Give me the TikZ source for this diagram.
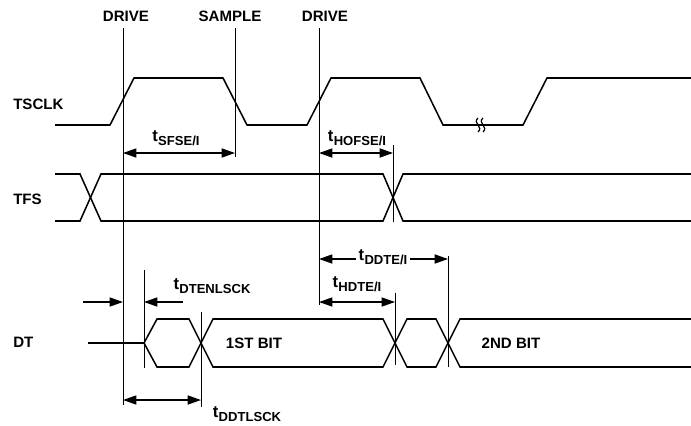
\documentclass[tikz,border=0pt]{standalone}
\usepackage{fontspec}
\setmainfont{Liberation Sans}
\usetikzlibrary{arrows.meta}

\newcommand{\tmark}[1]{{\fontsize{12.5}{13}\selectfont t}\kern0.2pt\raisebox{-3.4pt}{\fontsize{9.8}{10}\selectfont #1}}

\tikzset{
  wave/.style={line width=1.15pt, line join=miter},
  marker/.style={line width=0.6pt},
  dimarrow/.style={line width=0.95pt, {Triangle[length=10pt,width=6.8pt]}-{Triangle[length=10pt,width=6.8pt]}},
  onearrow/.style={line width=0.95pt, -{Triangle[length=10pt,width=6.8pt]}},
  txt/.style={font=\fontsize{11.3}{13}\selectfont\bfseries, inner sep=0pt},
}

\begin{document}
\begin{tikzpicture}[x=0.75pt,y=0.75pt,yscale=-1,xscale=1]
    \useasboundingbox (0,0) rectangle (691,425);

    %Marker lines
    \draw [marker] (123,28) -- (123,405) ;
    \draw [marker] (235,28) -- (235,157) ;
    \draw [marker] (319,28) -- (319,305) ;
    \draw [marker] (393,145) -- (393,222) ;
    \draw [marker] (395,293) -- (395,365) ;
    \draw [marker] (448,256) -- (448,367) ;
    \draw [marker] (144,270) -- (144,368) ;
    \draw [marker] (201,312) -- (201,407) ;

    %TSCLK
    \draw [wave] (55,125) -- (110,125) -- (134,78) -- (223,78) -- (247,125) -- (307,125) -- (331,78) -- (420,78) -- (443,125) -- (523,125) -- (547,78) -- (691,78) ;
    %Break mark
    \draw [line width=0.9pt] (478,118) .. controls (472,123) and (484,127) .. (478,132) ;
    \draw [line width=0.9pt] (483,118) .. controls (477,123) and (489,127) .. (483,132) ;

    %TFS
    \draw [wave] (55,174) -- (80,174) -- (101,221) -- (383,221) -- (403,174) -- (691,174) ;
    \draw [wave] (55,221) -- (80,221) -- (101,174) -- (383,174) -- (403,221) -- (691,221) ;

    %DT
    \draw [wave] (88,343) -- (144,343) ;
    \draw [wave] (144,343) -- (157,319) -- (189,319) -- (213,367) -- (383,367) -- (407,319) -- (436,319) -- (460,367) -- (691,367) ;
    \draw [wave] (144,343) -- (157,367) -- (189,367) -- (213,319) -- (383,319) -- (407,367) -- (436,367) -- (460,319) -- (691,319) ;

    % Text Nodes
    \node [txt] (drvA) at (126,16) {DRIVE};
    \node [txt] (smp) at (230,16) {SAMPLE};
    \node [txt] (drvB) at (325,16) {DRIVE};
    \node [txt, anchor=west] (tsclk) at (13,104) {TSCLK};
    \node [txt, anchor=west] (tfs) at (13,199) {TFS};
    \node [txt, anchor=west] (dt) at (13,342) {DT};
    \node [txt] (bitA) at (254,343) {1ST BIT};
    \node [txt] (bitB) at (511,343) {2ND BIT};

    %Timing labels
    \node [txt] (sfse) at (176,138) {\tmark{SFSE/I}};
    \node [txt] (hofse) at (357,138) {\tmark{HOFSE/I}};
    \node [txt, inner xsep=2pt] (ddte) at (383,257) {\tmark{DDTE/I}};
    \node [txt] (hdte) at (357,284) {\tmark{HDTE/I}};
    \node [txt] (dtenl) at (212,286) {\tmark{DTENLSCK}};
    \node [txt] (ddtl) at (247,414) {\tmark{DDTLSCK}};

    %Dimension arrows
    \coordinate (sfseL) at (123,153);
    \coordinate (sfseR) at (235,153);
    \coordinate (hofseL) at (319,153);
    \coordinate (hofseR) at (393,153);
    \coordinate (ddteL) at (319,259);
    \coordinate (ddteR) at (448,259);
    \coordinate (hdteL) at (319,302);
    \coordinate (hdteR) at (395,302);
    \coordinate (dtenlA) at (83,302);
    \coordinate (dtenlB) at (123,302);
    \coordinate (dtenlC) at (183,302);
    \coordinate (dtenlD) at (144,302);
    \coordinate (ddtlL) at (123,400);
    \coordinate (ddtlR) at (201,400);

    \draw [dimarrow] (sfseL) -- (sfseR) ;
    \draw [dimarrow] (hofseL) -- (hofseR) ;
    \draw [onearrow] (ddte.west |- ddteL) -- (ddteL) ;
    \draw [onearrow] (ddte.east |- ddteR) -- (ddteR) ;
    \draw [dimarrow] (hdteL) -- (hdteR) ;
    \draw [onearrow] (dtenlA) -- (dtenlB) ;
    \draw [onearrow] (dtenlC) -- (dtenlD) ;
    \draw [dimarrow] (ddtlL) -- (ddtlR) ;
\end{tikzpicture}
\end{document}
